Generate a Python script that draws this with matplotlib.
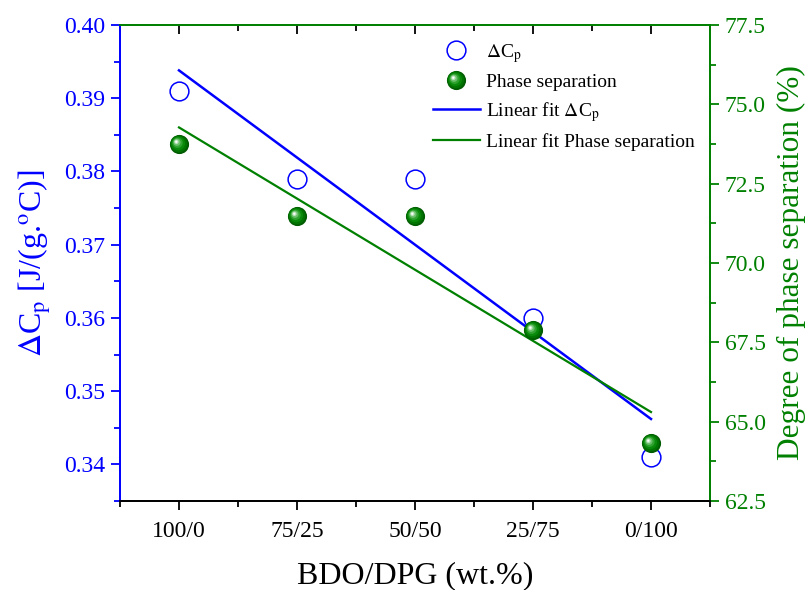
import numpy as np
import matplotlib
matplotlib.use("Agg")
import matplotlib.pyplot as plt
from matplotlib.path import Path
from matplotlib.markers import MarkerStyle
from matplotlib.legend_handler import HandlerTuple
from matplotlib.ticker import MultipleLocator, FixedLocator

# ---- data ----
categories = ["100/0", "75/25", "50/50", "25/75", "0/100"]
delta_cp = [0.391, 0.379, 0.379, 0.360, 0.341]
phase_sep = [73.75, 71.48, 71.48, 67.9, 64.33]

plt.rcParams['font.family'] = ['Liberation Serif', 'DejaVu Serif']
plt.rcParams['mathtext.fontset'] = 'stix'

BLUE = '#0000FF'
GREEN = '#008000'

fig = plt.figure(figsize=(8.08, 5.90), dpi=100)
ax1 = fig.add_axes([120/808, 1-501/590, 590/808, 476/590])
ax2 = ax1.twinx()

x = np.arange(1, len(categories) + 1)

# linear fits
p1 = np.polyfit(x, delta_cp, 1)
p2 = np.polyfit(x, phase_sep, 1)

fit1, = ax1.plot(x, np.polyval(p1, x), color=BLUE, lw=1.8, zorder=2)
sc1, = ax1.plot(x, delta_cp, 'o', ms=13.5, mfc='none', mec=BLUE, mew=1.1,
                ls='none', zorder=3)

fit2, = ax2.plot(x, np.polyval(p2, x), color=GREEN, lw=1.6, zorder=2)


def offset_circle(R, dx, dy):
    circ = Path.circle((dx, dy), R)
    verts = circ.vertices
    m = np.max(np.abs(verts))
    return MarkerStyle(circ), 2 * m


# shaded ball layers (radius pt, offset fraction, color)
hx, hy = -2.3, 2.0
layers = [
    (6.9, 0.0, '#005c00'),
    (6.0, 0.2, '#007400'),
    (4.9, 0.4, '#0a8a0a'),
    (3.7, 0.6, '#2fa22f'),
    (2.6, 0.8, '#6cc06c'),
    (1.6, 0.95, '#b8e2b8'),
    (0.8, 1.0, '#ffffff'),
]
ball_handles = []
for R, f, c in layers:
    ms_style, msize = offset_circle(R, hx * f, hy * f)
    h, = ax2.plot(x, phase_sep, ls='none', marker=ms_style, ms=msize,
                  mfc=c, mec='none', zorder=4)
    ball_handles.append(h)

# axes limits
ax1.set_xlim(0.5, 5.5)
ax1.set_ylim(0.335, 0.40)
ax2.set_ylim(62.5, 77.5)

ax1.set_xticks(x)
ax1.set_xticklabels(categories)
ax1.xaxis.set_minor_locator(FixedLocator([0.5, 1.5, 2.5, 3.5, 4.5, 5.5]))
ax1.yaxis.set_major_locator(MultipleLocator(0.01))
ax1.yaxis.set_minor_locator(MultipleLocator(0.005))
ax2.yaxis.set_major_locator(MultipleLocator(2.5))
ax2.yaxis.set_minor_locator(MultipleLocator(1.25))
ax1.yaxis.set_major_formatter(matplotlib.ticker.FormatStrFormatter('%.2f'))
ax2.yaxis.set_major_formatter(matplotlib.ticker.FormatStrFormatter('%.1f'))

# spines
for ax in (ax1, ax2):
    ax.spines['left'].set_color(BLUE)
    ax.spines['right'].set_color(GREEN)
    ax.spines['top'].set_color(GREEN)
    ax.spines['bottom'].set_color('black')
    for s in ax.spines.values():
        s.set_linewidth(1.3)

ax1.tick_params(axis='y', which='both', colors=BLUE, direction='out',
                labelsize=17, width=1.3, pad=4)
ax1.tick_params(axis='y', which='major', length=6.5)
ax1.tick_params(axis='y', which='minor', length=4)
ax1.tick_params(axis='x', which='both', direction='out', colors='black',
                labelsize=17, width=1.3, top=True, pad=8)
ax1.tick_params(axis='x', which='major', length=6.5)
ax1.tick_params(axis='x', which='minor', length=4)
for t in ax1.xaxis.get_major_ticks() + ax1.xaxis.get_minor_ticks():
    t.tick2line.set_color(GREEN)
    t.tick2line.set_marker(3)  # TICKDOWN
ax2.tick_params(axis='y', which='both', colors=GREEN, direction='out',
                labelsize=17, width=1.3, pad=4)
ax2.tick_params(axis='y', which='major', length=6.5)
ax2.tick_params(axis='y', which='minor', length=4)

ax1.set_xlabel('BDO/DPG (wt.%)', fontsize=23, labelpad=14)
ax1.set_ylabel(r'$\Delta$C$_\mathrm{p}$ [J/(g.$^\mathrm{o}$C)]', fontsize=23,
               color=BLUE, labelpad=8)
ax2.set_ylabel('Degree of phase separation (%)', fontsize=22.5, color=GREEN,
               labelpad=8)

leg = ax2.legend([sc1, tuple(ball_handles), fit1, fit2],
                 [r'$\Delta$C$_\mathrm{p}$', 'Phase separation',
                  r'Linear fit $\Delta$C$_\mathrm{p}$',
                  'Linear fit Phase separation'],
                 handler_map={tuple: HandlerTuple(ndivide=1, pad=0)},
                 loc='upper left', bbox_to_anchor=(433/808, 1-42/590),
                 bbox_transform=fig.transFigure, frameon=False,
                 fontsize=14, handlelength=2.4, handletextpad=0.3,
                 labelspacing=0.45, borderpad=0, borderaxespad=0)

fig.savefig('out.png', dpi=100)
